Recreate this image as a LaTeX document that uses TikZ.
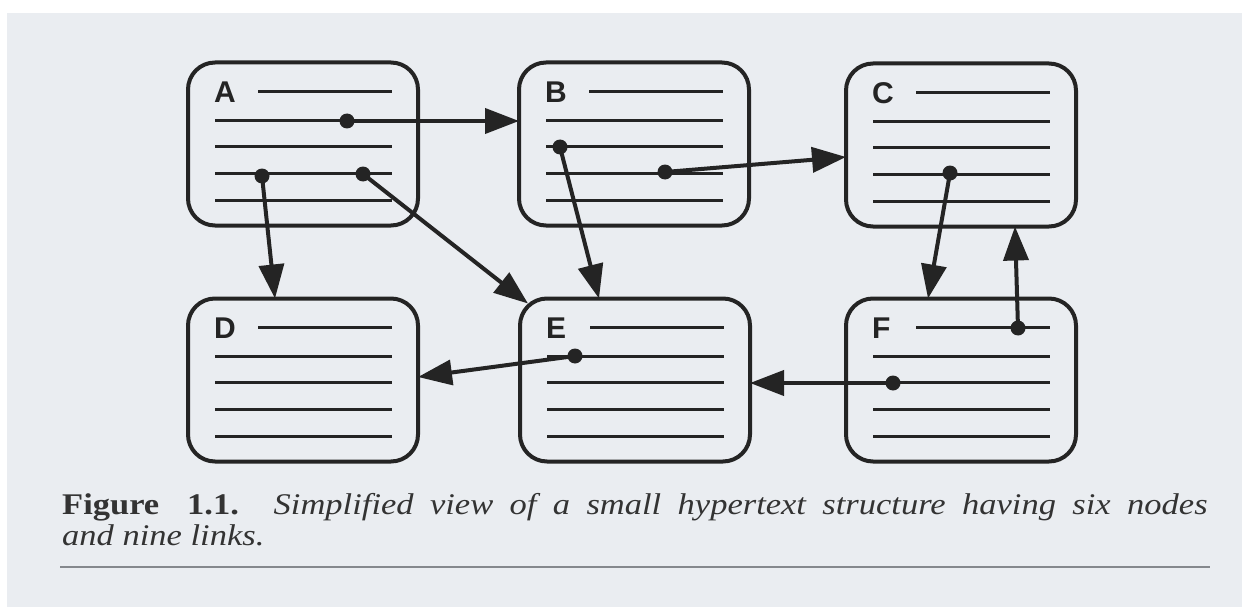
\documentclass[tikz,border=0pt]{standalone}
\usepackage{fontspec}
\setmainfont{Liberation Serif}
\newfontfamily\lblfont{Liberation Sans}
\usetikzlibrary{arrows.meta,calc}
\definecolor{page}{HTML}{EAEDF1}
\definecolor{ink}{HTML}{242424}
\definecolor{captink}{HTML}{333333}
\definecolor{rulec}{HTML}{85888D}
\newcommand\boxlines[1]{%
  \draw[txtline] ($(#1.north west)+(70,29)$) -- ($(#1.north east)+(-26,29)$);
  \foreach \o in {58,84,111,138}{%
    \draw[txtline] ($(#1.north west)+(27,\o)$) -- ($(#1.north east)+(-26,\o)$);}%
}
\begin{document}
\begin{tikzpicture}[x=1pt,y=-1pt,
  box/.style={draw=ink, line width=4pt, rounded corners=27pt, minimum width=230pt, minimum height=163pt, inner sep=0pt, outer sep=0pt},
  txtline/.style={draw=ink, line width=2.6pt},
  link/.style={draw=ink, line width=4pt, -{Triangle[length=34pt,width=25pt]}},
  dotmark/.style={fill=ink},
  lbl/.style={font=\lblfont\bfseries\fontsize{30}{30}\selectfont, text=ink, inner sep=0pt, anchor=base west},
  captxt/.style={font=\fontsize{30}{28}\selectfont, text=captink, inner sep=0pt, anchor=base west}]
\useasboundingbox (0,0) rectangle (1242,607);
\fill[white] (0,0) rectangle (1242,607);
\fill[page] (7,13) rectangle (1242,607);

% boxes
\node[box] (A) at (303,144) {};
\node[box] (B) at (634,144) {};
\node[box] (C) at (961,145) {};
\node[box] (D) at (303,380) {};
\node[box] (E) at (635,380) {};
\node[box] (F) at (961,380) {};

\foreach \n in {A,B,C,D,E,F}{\boxlines{\n}}

\node[lbl] (lA) at ($(A.north west)+(26,40)$) {A};
\node[lbl] (lB) at ($(B.north west)+(26,40)$) {B};
\node[lbl] (lC) at ($(C.north west)+(26,40)$) {C};
\node[lbl] (lD) at ($(D.north west)+(26,40)$) {D};
\node[lbl] (lE) at ($(E.north west)+(26,40)$) {E};
\node[lbl] (lF) at ($(F.north west)+(26,40)$) {F};

% link anchors
\coordinate (dA1) at (347,121);
\coordinate (dA2) at (262,176);
\coordinate (dA3) at (363,174);
\coordinate (dB1) at (560,147);
\coordinate (dB2) at (665,172);
\coordinate (dC1) at (950,173);
\coordinate (dE1) at (575,356);
\coordinate (dF1) at (1018,328);
\coordinate (dF2) at (893,383);

% links
\draw[link] (dA1) -- (dA1 -| B.west);
\draw[link] (dA2) -- ([xshift=-28pt]D.north);
\draw[link] (dA3) -- ([xshift=8pt,yshift=-5pt]E.north west);
\draw[link] (dB1) -- ([xshift=-36pt]E.north);
\draw[link] (dB2) -- ([yshift=-12pt]C.west);
\draw[link] (dC1) -- ([xshift=-33pt]F.north);
\draw[link] (dF1) -- ([xshift=54pt]C.south);
\draw[link] (dF2) -- (dF2 -| E.east);
\draw[link] (dE1) -- ([yshift=3pt]D.east);

\foreach \d in {dA1,dA2,dA3,dB1,dB2,dC1,dE1,dF1,dF2}{\fill[dotmark] (\d) circle (7.5);}

% caption
\node[captxt] (cap1) at (62,514) {\scalebox{1.15}[1]{\makebox[996pt][s]{\textbf{Figure}\hspace{10pt} \textbf{1.1.} \textit{Simplified view of a small hypertext structure having six nodes}}}};
\node[captxt] (cap2) at (62,545) {\scalebox{1.15}[1]{\textit{and nine links.}}};
\draw[rulec, line width=2pt] (60,567) -- (1210,567);
\end{tikzpicture}
\end{document}
